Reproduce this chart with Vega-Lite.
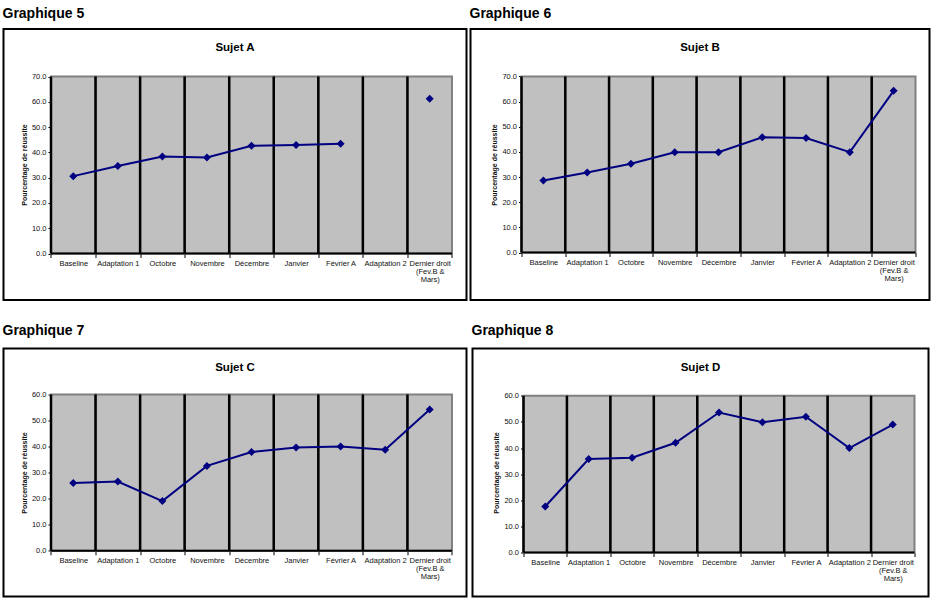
{
  "$schema": "https://vega.github.io/schema/vega-lite/v6.json",
  "background": "white",
  "padding": {"left": 2.5, "top": 7, "right": 0, "bottom": 0},
  "data": {
    "values": [
      {"sujet": "A", "periode": "Baseline", "valeur": 30.6},
      {"sujet": "A", "periode": "Adaptation 1", "valeur": 34.6},
      {"sujet": "A", "periode": "Octobre", "valeur": 38.4},
      {"sujet": "A", "periode": "Novembre", "valeur": 38.0},
      {"sujet": "A", "periode": "Décembre", "valeur": 42.6},
      {"sujet": "A", "periode": "Janvier", "valeur": 42.9},
      {"sujet": "A", "periode": "Février A", "valeur": 43.4},
      {"sujet": "A", "periode": "Adaptation 2", "valeur": null},
      {"sujet": "A", "periode": "Dernier droit (Fev.B & Mars)", "valeur": 61.2},
      {"sujet": "B", "periode": "Baseline", "valeur": 28.6},
      {"sujet": "B", "periode": "Adaptation 1", "valeur": 31.8},
      {"sujet": "B", "periode": "Octobre", "valeur": 35.3},
      {"sujet": "B", "periode": "Novembre", "valeur": 39.9},
      {"sujet": "B", "periode": "Décembre", "valeur": 39.9},
      {"sujet": "B", "periode": "Janvier", "valeur": 45.8},
      {"sujet": "B", "periode": "Février A", "valeur": 45.5},
      {"sujet": "B", "periode": "Adaptation 2", "valeur": 39.9},
      {"sujet": "B", "periode": "Dernier droit (Fev.B & Mars)", "valeur": 64.3},
      {"sujet": "C", "periode": "Baseline", "valeur": 26.0},
      {"sujet": "C", "periode": "Adaptation 1", "valeur": 26.6},
      {"sujet": "C", "periode": "Octobre", "valeur": 19.1},
      {"sujet": "C", "periode": "Novembre", "valeur": 32.6},
      {"sujet": "C", "periode": "Décembre", "valeur": 37.9},
      {"sujet": "C", "periode": "Janvier", "valeur": 39.7},
      {"sujet": "C", "periode": "Février A", "valeur": 40.0},
      {"sujet": "C", "periode": "Adaptation 2", "valeur": 38.8},
      {"sujet": "C", "periode": "Dernier droit (Fev.B & Mars)", "valeur": 54.2},
      {"sujet": "D", "periode": "Baseline", "valeur": 17.6},
      {"sujet": "D", "periode": "Adaptation 1", "valeur": 35.8},
      {"sujet": "D", "periode": "Octobre", "valeur": 36.3},
      {"sujet": "D", "periode": "Novembre", "valeur": 42.0},
      {"sujet": "D", "periode": "Décembre", "valeur": 53.6},
      {"sujet": "D", "periode": "Janvier", "valeur": 49.9},
      {"sujet": "D", "periode": "Février A", "valeur": 52.0},
      {"sujet": "D", "periode": "Adaptation 2", "valeur": 40.0},
      {"sujet": "D", "periode": "Dernier droit (Fev.B & Mars)", "valeur": 49.0}
    ]
  },
  "spacing": 22.5,
  "vconcat": [
    {
      "spacing": 2,
      "hconcat": [
        {
          "title": {"text": "Graphique 5", "anchor": "start", "offset": -4, "baseline": "alphabetic"},
          "vconcat": [
            {
              "title": {"text": "Sujet A", "anchor": "middle", "offset": -33.5, "baseline": "alphabetic", "fontSize": 11.5},
              "width": 463,
              "height": 271,
              "transform": [{"filter": "datum.sujet === 'A'"}],
              "encoding": {
                "x": {
                  "field": "periode", "type": "nominal", "sort": null,
                  "scale": {"type": "band", "domain": ["Baseline", "Adaptation 1", "Octobre", "Novembre", "Décembre", "Janvier", "Février A", "Adaptation 2", "Dernier droit (Fev.B & Mars)"], "paddingInner": 0, "paddingOuter": 0.6958, "align": 0.766},
                  "axis": {"offset": -46.5, "title": null}
                }
              },
              "layer": [
                {
                  "mark": {"type": "bar", "fill": "#c0c0c0", "stroke": "#808080", "strokeWidth": 2},
                  "encoding": {
                    "y": {"datum": 0, "type": "quantitative", "scale": {"domain": [-18.39, 88.79], "nice": false, "zero": false},
                      "axis": {"offset": -47.5, "values": [0, 10, 20, 30, 40, 50, 60, 70], "tickCount": 20, "title": "Pourcentage de réussite"}},
                    "y2": {"datum": 70}
                  }
                },
                {
                  "mark": {"type": "rule", "color": "#000000", "strokeWidth": 2.5},
                  "encoding": {
                    "x": {"field": "periode", "type": "nominal", "sort": null, "bandPosition": 0},
                    "y": {"datum": 0, "type": "quantitative"},
                    "y2": {"datum": 70}
                  }
                },
                {
                  "mark": {"type": "bar", "fill": null, "stroke": "#000000", "strokeWidth": 2},
                  "encoding": {"y": {"datum": 0, "type": "quantitative"}, "y2": {"datum": 0}}
                },
                {
                  "mark": {"type": "line", "color": "#000080", "strokeWidth": 2},
                  "encoding": {"y": {"field": "valeur", "type": "quantitative"}}
                },
                {
                  "mark": {"type": "point", "shape": "diamond", "filled": true, "color": "#000080", "size": 64, "opacity": 1},
                  "encoding": {"y": {"field": "valeur", "type": "quantitative"}}
                }
              ]
            }
          ]
        },
        {
          "title": {"text": "Graphique 6", "anchor": "start", "offset": -4, "baseline": "alphabetic"},
          "vconcat": [
            {
              "title": {"text": "Sujet B", "anchor": "middle", "offset": -33.5, "baseline": "alphabetic", "fontSize": 11.5},
              "width": 459,
              "height": 271,
              "transform": [{"filter": "datum.sujet === 'B'"}],
              "encoding": {
                "x": {
                  "field": "periode", "type": "nominal", "sort": null,
                  "scale": {"type": "band", "domain": ["Baseline", "Adaptation 1", "Octobre", "Novembre", "Décembre", "Janvier", "Février A", "Adaptation 2", "Dernier droit (Fev.B & Mars)"], "paddingInner": 0, "paddingOuter": 0.7424, "align": 0.7846},
                  "axis": {"offset": -47.5, "title": null}
                }
              },
              "layer": [
                {
                  "mark": {"type": "bar", "fill": "#c0c0c0", "stroke": "#808080", "strokeWidth": 2},
                  "encoding": {
                    "y": {"datum": 0, "type": "quantitative", "scale": {"domain": [-18.89, 88.89], "nice": false, "zero": false},
                      "axis": {"offset": -51, "values": [0, 10, 20, 30, 40, 50, 60, 70], "tickCount": 20, "title": "Pourcentage de réussite"}},
                    "y2": {"datum": 70}
                  }
                },
                {
                  "mark": {"type": "rule", "color": "#000000", "strokeWidth": 2.5},
                  "encoding": {
                    "x": {"field": "periode", "type": "nominal", "sort": null, "bandPosition": 0},
                    "y": {"datum": 0, "type": "quantitative"},
                    "y2": {"datum": 70}
                  }
                },
                {
                  "mark": {"type": "bar", "fill": null, "stroke": "#000000", "strokeWidth": 2},
                  "encoding": {"y": {"datum": 0, "type": "quantitative"}, "y2": {"datum": 0}}
                },
                {
                  "mark": {"type": "line", "color": "#000080", "strokeWidth": 2},
                  "encoding": {"y": {"field": "valeur", "type": "quantitative"}}
                },
                {
                  "mark": {"type": "point", "shape": "diamond", "filled": true, "color": "#000080", "size": 64, "opacity": 1},
                  "encoding": {"y": {"field": "valeur", "type": "quantitative"}}
                }
              ]
            }
          ]
        }
      ]
    },
    {
      "spacing": 4,
      "hconcat": [
        {
          "title": {"text": "Graphique 7", "anchor": "start", "offset": -1, "baseline": "alphabetic"},
          "vconcat": [
            {
              "title": {"text": "Sujet C", "anchor": "middle", "offset": -33.5, "baseline": "alphabetic", "fontSize": 11.5},
              "width": 463,
              "height": 248,
              "transform": [{"filter": "datum.sujet === 'C'"}],
              "encoding": {
                "x": {
                  "field": "periode", "type": "nominal", "sort": null,
                  "scale": {"type": "band", "domain": ["Baseline", "Adaptation 1", "Octobre", "Novembre", "Décembre", "Janvier", "Février A", "Adaptation 2", "Dernier droit (Fev.B & Mars)"], "paddingInner": 0, "paddingOuter": 0.6958, "align": 0.766},
                  "axis": {"offset": -45.7, "title": null}
                }
              },
              "layer": [
                {
                  "mark": {"type": "bar", "fill": "#c0c0c0", "stroke": "#808080", "strokeWidth": 2},
                  "encoding": {
                    "y": {"datum": 0, "type": "quantitative", "scale": {"domain": [-17.54, 77.66], "nice": false, "zero": false},
                      "axis": {"offset": -47.5, "values": [0, 10, 20, 30, 40, 50, 60], "tickCount": 20, "title": "Pourcentage de réussite"}},
                    "y2": {"datum": 60}
                  }
                },
                {
                  "mark": {"type": "rule", "color": "#000000", "strokeWidth": 2.5},
                  "encoding": {
                    "x": {"field": "periode", "type": "nominal", "sort": null, "bandPosition": 0},
                    "y": {"datum": 0, "type": "quantitative"},
                    "y2": {"datum": 60}
                  }
                },
                {
                  "mark": {"type": "bar", "fill": null, "stroke": "#000000", "strokeWidth": 2},
                  "encoding": {"y": {"datum": 0, "type": "quantitative"}, "y2": {"datum": 0}}
                },
                {
                  "mark": {"type": "line", "color": "#000080", "strokeWidth": 2},
                  "encoding": {"y": {"field": "valeur", "type": "quantitative"}}
                },
                {
                  "mark": {"type": "point", "shape": "diamond", "filled": true, "color": "#000080", "size": 64, "opacity": 1},
                  "encoding": {"y": {"field": "valeur", "type": "quantitative"}}
                }
              ]
            }
          ]
        },
        {
          "title": {"text": "Graphique 8", "anchor": "start", "offset": -1, "baseline": "alphabetic"},
          "vconcat": [
            {
              "title": {"text": "Sujet D", "anchor": "middle", "offset": -33.5, "baseline": "alphabetic", "fontSize": 11.5},
              "width": 456,
              "height": 248,
              "transform": [{"filter": "datum.sujet === 'D'"}],
              "encoding": {
                "x": {
                  "field": "periode", "type": "nominal", "sort": null,
                  "scale": {"type": "band", "domain": ["Baseline", "Adaptation 1", "Octobre", "Novembre", "Décembre", "Janvier", "Février A", "Adaptation 2", "Dernier droit (Fev.B & Mars)"], "paddingInner": 0, "paddingOuter": 0.7481, "align": 0.7846},
                  "axis": {"offset": -44, "title": null}
                }
              },
              "layer": [
                {
                  "mark": {"type": "bar", "fill": "#c0c0c0", "stroke": "#808080", "strokeWidth": 2},
                  "encoding": {
                    "y": {"datum": 0, "type": "quantitative", "scale": {"domain": [-16.85, 78.11], "nice": false, "zero": false},
                      "axis": {"offset": -51, "values": [0, 10, 20, 30, 40, 50, 60], "tickCount": 20, "title": "Pourcentage de réussite"}},
                    "y2": {"datum": 60}
                  }
                },
                {
                  "mark": {"type": "rule", "color": "#000000", "strokeWidth": 2.5},
                  "encoding": {
                    "x": {"field": "periode", "type": "nominal", "sort": null, "bandPosition": 0},
                    "y": {"datum": 0, "type": "quantitative"},
                    "y2": {"datum": 60}
                  }
                },
                {
                  "mark": {"type": "bar", "fill": null, "stroke": "#000000", "strokeWidth": 2},
                  "encoding": {"y": {"datum": 0, "type": "quantitative"}, "y2": {"datum": 0}}
                },
                {
                  "mark": {"type": "line", "color": "#000080", "strokeWidth": 2},
                  "encoding": {"y": {"field": "valeur", "type": "quantitative"}}
                },
                {
                  "mark": {"type": "point", "shape": "diamond", "filled": true, "color": "#000080", "size": 64, "opacity": 1},
                  "encoding": {"y": {"field": "valeur", "type": "quantitative"}}
                }
              ]
            }
          ]
        }
      ]
    }
  ],
  "config": {
    "font": "Liberation Sans",
    "view": {"stroke": "#000000", "strokeWidth": 2, "fill": "white"},
    "title": {"fontSize": 14, "fontWeight": "bold", "color": "#000000", "font": "Liberation Sans"},
    "axisX": {
      "domain": false, "grid": false, "tickBand": "extent",
      "tickColor": "#000000", "tickSize": 4, "tickWidth": 1,
      "labelFontSize": 7.5, "labelColor": "#111111", "labelAngle": 0, "labelPadding": 2,
      "labelOverlap": false, "labelBound": false, "labelLineHeight": 8,
      "labelExpr": "datum.value === 'Dernier droit (Fev.B & Mars)' ? ['Dernier droit', '(Fev.B &', 'Mars)'] : datum.label"
    },
    "axisY": {
      "titleFontSize": 7, "titleFontWeight": "bold", "titleColor": "#111111", "titlePadding": 4,
      "domain": false, "grid": false, "format": ".1f", "labelOverlap": false, "labelBound": false,
      "tickColor": "#000000", "tickSize": 3, "tickWidth": 1,
      "labelFontSize": 7.5, "labelColor": "#111111", "labelPadding": 2
    }
  }
}
